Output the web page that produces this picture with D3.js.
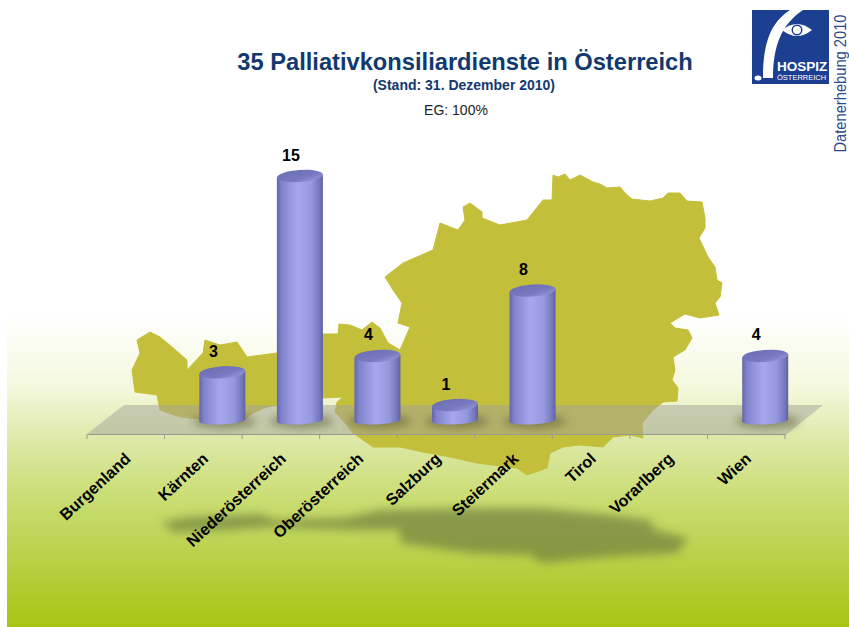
<!DOCTYPE html>
<html><head><meta charset="utf-8">
<script src="https://cdnjs.cloudflare.com/ajax/libs/d3/7.8.5/d3.min.js"></script>
<style>html,body{margin:0;padding:0;background:#fff}svg{display:block}text{font-family:"Liberation Sans",Arial,sans-serif}</style>
</head><body><div id="c"></div>
<script>
const categories = ["Burgenland","Kärnten","Niederösterreich","Oberösterreich","Salzburg","Steiermark","Tirol","Vorarlberg","Wien"];
const values = [0,3,15,4,1,8,0,0,4];
const titleText = "35 Palliativkonsiliardienste in Österreich";
const subtitleText = "(Stand: 31. Dezember 2010)";
const noteText = "EG: 100%";
const sideText = "Datenerhebung 2010";
// decorative backdrop outlines (Austria silhouette and its ground shadow)
const mapOutline = [[553,175],[558,177],[565,174],[570,180],[580,175],[593,182],[600,184],[607,188],[620,187],[626,194],[632,199],[650,201],[663,198],[668,193],[680,193],[687,201],[702,202],[705,218],[705,228],[699,238],[708,257],[715,267],[717,280],[722,283],[720,297],[715,303],[719,315],[700,318],[685,314],[670,323],[675,328],[688,330],[692,338],[685,350],[673,357],[675,370],[672,380],[678,388],[677,401],[663,402],[653,410],[642,423],[643,438],[630,435],[613,437],[603,447],[580,445],[563,447],[550,453],[547,468],[527,475],[517,468],[493,465],[477,463],[450,457],[423,452],[400,447],[373,447],[353,433],[347,425],[335,412],[337,402],[343,397],[323,398],[267,407],[253,413],[240,423],[180,417],[160,410],[157,395],[135,392],[132,370],[140,353],[137,340],[150,332],[160,337],[172,347],[187,360],[187,370],[203,353],[205,340],[220,345],[237,342],[247,357],[277,353],[323,334],[338,334],[339,324],[350,325],[362,330],[372,322],[380,328],[388,343],[400,350],[410,327],[398,323],[402,303],[393,290],[385,277],[403,263],[433,250],[440,223],[458,230],[465,220],[463,207],[470,203],[482,212],[482,218],[500,225],[527,220],[535,210],[543,200],[552,200]];
const shadowOutline = [[162,522],[190,517],[260,514],[276,520],[346,518],[379,510],[487,508],[541,508],[612,515],[650,520],[655,530],[688,538],[677,553],[606,557],[541,563],[531,555],[471,553],[400,543],[400,530],[352,530],[271,527],[227,530],[173,532]];

const W=849,H=627;
const svg=d3.select("#c").append("svg").attr("width",W).attr("height",H);
const defs=svg.append("defs");
const bg=defs.append("linearGradient").attr("id","bg").attr("x1",0).attr("x2",0).attr("y1",0).attr("y2",1);
[[0,"#ffffff"],[.5,"#ffffff"],[.62,"#f4f8dc"],[.70,"#dde9a8"],[.8,"#c9dc70"],[.88,"#bcd24e"],[1,"#a8c412"]].forEach(d=>bg.append("stop").attr("offset",d[0]).attr("stop-color",d[1]));
const cyl=defs.append("linearGradient").attr("id","cyl");
[[0,"#6466a8"],[.1,"#8082cc"],[.45,"#a6a8ee"],[.75,"#9698de"],[.93,"#7476bc"],[1,"#5e609e"]].forEach(d=>cyl.append("stop").attr("offset",d[0]).attr("stop-color",d[1]));
const cap=defs.append("linearGradient").attr("id","cap").attr("x1",0).attr("x2",1).attr("y1",0).attr("y2",1);
[[0,"#6c6eb4"],[.6,"#7779c0"],[1,"#9a9cde"]].forEach(d=>cap.append("stop").attr("offset",d[0]).attr("stop-color",d[1]));
defs.append("filter").attr("id","b4").attr("x","-20%").attr("y","-40%").attr("width","140%").attr("height","180%").append("feGaussianBlur").attr("stdDeviation",5);
defs.append("filter").attr("id","b5").attr("x","-40%").attr("y","-80%").attr("width","180%").attr("height","260%").append("feGaussianBlur").attr("stdDeviation",4);
defs.append("filter").attr("id","b1").append("feGaussianBlur").attr("stdDeviation",.5);

svg.append("rect").attr("x",7).attr("y",0).attr("width",W-7).attr("height",H).attr("fill","url(#bg)");
const line=d3.line().curve(d3.curveLinearClosed);
svg.append("path").attr("d",line(shadowOutline)).attr("fill","#66733a").attr("opacity",.62).attr("filter","url(#b4)");
svg.append("path").attr("d",line(mapOutline)).attr("fill","#c4bf3a").attr("stroke","#c4bf3a").attr("stroke-width",1).attr("filter","url(#b1)");

// scales
const axisY=434, x0=87, x1=785, depth=19;
const x=d3.scaleBand().domain(categories).range([x0,x1]).padding(0);
const y=d3.scaleLinear().domain([0,15]).range([421.4,176]);
const rx=23, ry=6, ryBase=4;

// floor
svg.append("path").attr("d",line([[x0,axisY],[x0+37,405],[x1+38,405],[x1+2,axisY]])).attr("fill","#a3a39b").attr("opacity",.5);
// axis
const axis=d3.axisBottom(x).tickSize(0).tickSizeOuter(0);
const gx=svg.append("g").attr("transform",`translate(0,${axisY})`).call(axis);
gx.select(".domain").attr("stroke","#9a9a92").attr("stroke-width",1.2);
gx.selectAll(".tick text").attr("fill","#000").attr("font-size",16.2).attr("font-weight","bold")
  .attr("text-anchor","end").attr("dy",0).attr("y",0)
  .attr("transform","translate(6,26) rotate(-43)");
gx.selectAll(".edge").data(d3.range(categories.length+1)).enter().append("line").attr("class","edge")
  .attr("x1",i=>x0+i*x.step()).attr("x2",i=>x0+i*x.step()).attr("y1",0).attr("y2",5).attr("stroke","#9a9a92");

const shown=categories.map((c,i)=>({c,v:values[i]})).filter(d=>d.v>0);
const cx=d=>x(d.c)+x.bandwidth()/2+depth;
// bar shadows
svg.append("g").selectAll("ellipse").data(shown).enter().append("ellipse")
  .attr("cx",d=>cx(d)+2).attr("cy",y(0)).attr("rx",rx+9).attr("ry",ry+1).attr("fill","#55552f").attr("opacity",.5).attr("filter","url(#b5)");
// bars
const bars=svg.append("g").selectAll("g").data(shown).enter().append("g").attr("transform",d=>`translate(${cx(d)},0)`);
bars.append("path").attr("d",d=>{const t=y(d.v),b=y(0)-1;return `M${-rx},${t+1.5}L${-rx},${b+1}A${rx},${ryBase} -3 0 0 ${rx},${b-1}L${rx},${t-1.5}Z`;}).attr("fill","url(#cyl)");
bars.append("ellipse").attr("rx",rx).attr("ry",ry).attr("fill","url(#cap)").attr("transform",d=>`translate(0,${y(d.v)}) rotate(-4)`);
bars.append("text").attr("x",-9).attr("y",d=>y(d.v)-15.5).attr("text-anchor","middle").attr("font-size",16).attr("font-weight","bold").attr("fill","#000").text(d=>d.v);

// titles
svg.append("text").attr("x",465).attr("y",70).attr("text-anchor","middle").attr("font-size",23.7).attr("font-weight","bold").attr("fill","#12396e").text(titleText);
svg.append("text").attr("x",464).attr("y",90).attr("text-anchor","middle").attr("font-size",14).attr("font-weight","bold").attr("fill","#12396e").text(subtitleText);
svg.append("text").attr("x",456).attr("y",115).attr("text-anchor","middle").attr("font-size",14).attr("fill","#222").text(noteText);
svg.append("text").attr("transform","translate(846,152.5) rotate(-90)").attr("font-size",16).attr("textLength",138).attr("lengthAdjust","spacingAndGlyphs").attr("fill","#2b4a8c").text(sideText);

// logo
const lg=svg.append("g");
lg.append("rect").attr("x",752).attr("y",10).attr("width",77).attr("height",74).attr("fill","#1d3f92");
lg.append("path").attr("d","M790,10C772,22 763,40 763,78L773,78C773,45 782,24 803,10Z").attr("fill","#fff");
lg.append("path").attr("d","M782,30Q797,18 812,30Q797,42 782,30Z").attr("fill","#fff");
lg.append("circle").attr("cx",797).attr("cy",30).attr("r",5.5).attr("fill","#1d3f92");
lg.append("circle").attr("cx",797).attr("cy",30).attr("r",4).attr("fill","#fff");
lg.append("ellipse").attr("cx",758).attr("cy",78).attr("rx",3.5).attr("ry",2.5).attr("fill","#fff");
lg.append("text").attr("x",777).attr("y",71).attr("font-size",13.5).attr("font-weight","bold").attr("fill","#fff").text("HOSPIZ");
lg.append("text").attr("x",777).attr("y",80).attr("font-size",7.5).attr("fill","#fff").text("ÖSTERREICH");
</script></body></html>
